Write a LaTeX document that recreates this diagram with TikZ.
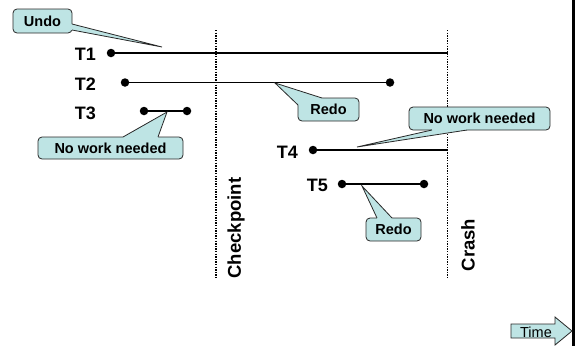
\documentclass[tikz,border=0pt]{standalone}
\usepackage{fontspec}
\setmainfont{Liberation Sans}
\definecolor{cfill}{RGB}{190,228,228}
\definecolor{cline}{RGB}{40,40,40}
\begin{document}
\begin{tikzpicture}[x=1pt,y=-1pt,
  tl/.style={line width=1.6pt},
  dotn/.style={circle,fill=black,inner sep=0pt,minimum size=8.5pt},
  tlabel/.style={font=\bfseries\fontsize{18}{18}\selectfont,anchor=east,inner sep=0pt},
  cbox/.style={draw=cline,fill=cfill,rounded corners=4pt,line width=0.8pt,
    font=\bfseries\fontsize{14.5}{15}\selectfont,inner sep=0pt},
  ptrline/.style={draw=cline,line width=0.8pt,line join=miter},
  vline/.style={line width=1.8pt,dash pattern=on 1.3pt off 1.3pt},
  vtext/.style={font=\bfseries\fontsize{18.5}{18}\selectfont,rotate=90,inner sep=0pt}]

\useasboundingbox (0,0) rectangle (575,346);

% right border
\coordinate (rb1) at (573.7,0);
\coordinate (rb2) at (573.7,346);
\draw[line width=2.5pt] (rb1) -- (rb2);

% checkpoint and crash lines
\coordinate (cp1) at (216,30);
\coordinate (cp2) at (216,278);
\coordinate (cr1) at (447.5,30);
\coordinate (cr2) at (447.5,278);
\draw[vline] (cp1) -- (cp2);
\draw[vline] (cr1) -- (cr2);
\node[vtext] (cptext) at (236,228) {Checkpoint};
\node[vtext] (crtext) at (468,245) {Crash};

% transactions
\node[tlabel] (l1) at (96,54) {T1};
\node[dotn] (t1s) at (111,53) {};
\coordinate (t1e) at (447.5,53);
\draw[tl] (t1s.center) -- (t1e);

\node[tlabel] (l2) at (96,84) {T2};
\node[dotn] (t2s) at (125,82.5) {};
\node[dotn] (t2e) at (390,82.5) {};
\draw[tl] (t2s.center) -- (t2e.center);

\node[tlabel] (l3) at (96,113) {T3};
\node[dotn] (t3s) at (144,111) {};
\node[dotn] (t3e) at (187,111) {};
\draw[tl] (t3s.center) -- (t3e.center);

\node[tlabel] (l4) at (298,152) {T4};
\node[dotn] (t4s) at (313,150) {};
\coordinate (t4e) at (447.5,150);
\draw[tl] (t4s.center) -- (t4e);

\node[tlabel] (l5) at (328,185) {T5};
\node[dotn] (t5s) at (342,184) {};
\node[dotn] (t5e) at (424,184) {};
\draw[tl] (t5s.center) -- (t5e.center);

% callout: Undo
\node[cbox,minimum width=59pt,minimum height=24pt] (undo) at (42.5,21) {Undo};
\coordinate (undotip) at (162,47);
\fill[cfill] (69,24) -- (72,24) -- (undotip) -- (72,30) -- (69,30) -- cycle;
\draw[ptrline] (72,24) -- (undotip) -- (72,30);

% callout: No work needed (T3)
\node[cbox,minimum width=145pt,minimum height=22pt] (nw3) at (110.5,148) {No work needed};
\coordinate (nw3tip) at (167,112);
\fill[cfill] (123,140) -- (123,137) -- (nw3tip) -- (158,137) -- (158,140) -- cycle;
\draw[ptrline] (123,137) -- (nw3tip) -- (158,137);

% callout: Redo (T2)
\node[cbox,minimum width=61pt,minimum height=23pt] (redo2) at (328.5,109.5) {Redo};
\coordinate (redo2tip) at (275,83);
\fill[cfill] (301,105) -- (298,105) -- (redo2tip) -- (322,98) -- (322,101) -- (301,101) -- cycle;
\draw[ptrline] (298,105) -- (redo2tip) -- (322,98);

% callout: No work needed (T4)
\node[cbox,minimum width=141pt,minimum height=23pt] (nw4) at (479.5,118.5) {No work needed};
\coordinate (nw4tip) at (357,147);
\fill[cfill] (432,127) -- (432,130) -- (nw4tip) -- (467,130) -- (467,127) -- cycle;
\draw[ptrline] (432,130) -- (nw4tip) -- (467,130);

% callout: Redo (T5)
\node[cbox,minimum width=55pt,minimum height=23pt] (redo5) at (393.5,229.5) {Redo};
\coordinate (redo5tip) at (362,186);
\fill[cfill] (377,221) -- (377,218) -- (redo5tip) -- (392,218) -- (392,221) -- cycle;
\draw[ptrline] (377,218) -- (redo5tip) -- (392,218);

% time arrow
\path[fill=cfill,draw=cline,line width=0.8pt]
  (511,324) -- (555,324) -- (555,317) -- (572,331) -- (555,345) -- (555,338) -- (511,338) -- cycle;
\node[font=\fontsize{14.5}{15}\selectfont,inner sep=0pt] (time) at (536,332) {Time};

\end{tikzpicture}
\end{document}
